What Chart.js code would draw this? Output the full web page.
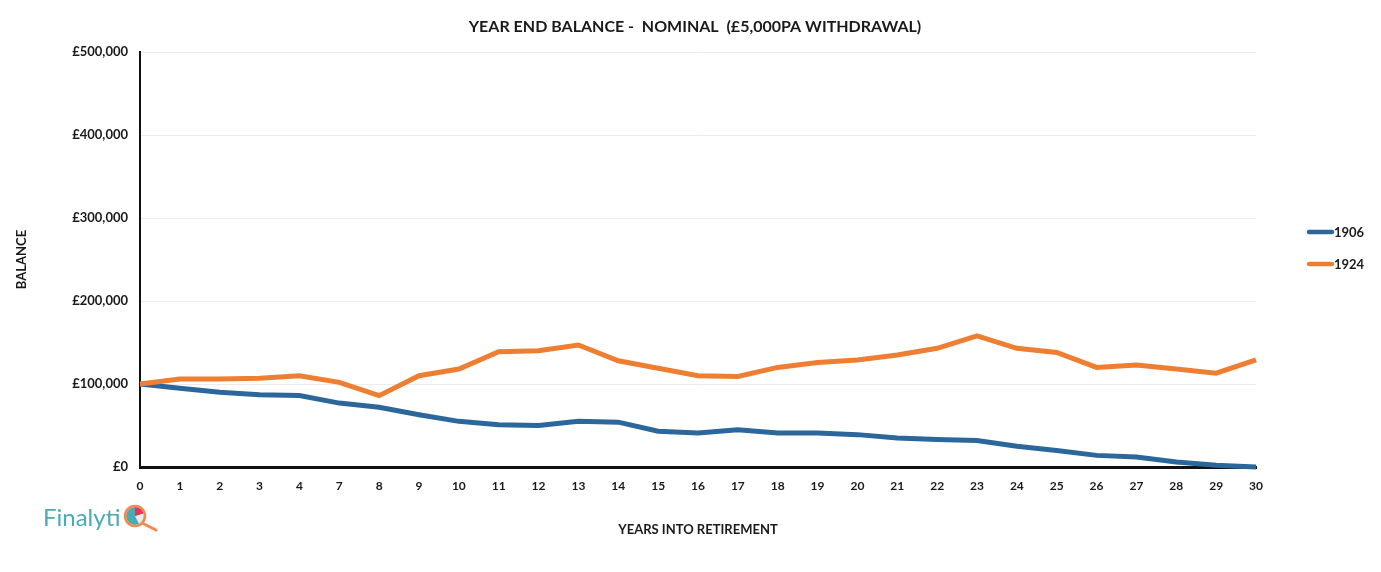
<!DOCTYPE html>
<html>
<head>
<meta charset="utf-8">
<script src="https://cdn.jsdelivr.net/npm/chart.js@4/dist/chart.umd.min.js"></script>
<style>
  html, body { margin: 0; padding: 0; background: #fff; }
  #wrap { width: 1381px; height: 572px; position: relative; }
</style>
</head>
<body>
<div id="wrap"><canvas id="lineChart" width="1381" height="572"></canvas></div>
<script>
const years = ["0", "1", "2", "3", "4", "7", "8", "9", "10", "11", "12", "13", "14", "15", "16", "17",
  "18", "19", "20", "21", "22", "23", "24", "25", "26", "27", "28", "29", "30"];

const balance1906 = [100000, 95000, 90000, 87000, 86000, 77000, 72000, 63000, 55000, 51000, 50000, 55000,
  54000, 43000, 41000, 45000, 41000, 41000, 39000, 35000, 33000, 32000, 25000, 20000, 14000, 12000, 6000, 2000, 0];

const balance1924 = [100000, 106000, 106000, 107000, 110000, 102000, 86000, 110000, 118000, 139000, 140000, 147000,
  128000, 119000, 110000, 109000, 120000, 126000, 129000, 135000, 143000, 158000, 143000, 138000, 120000, 123000, 118000, 113000, 129000];

const yTicks = [0, 100000, 200000, 300000, 400000, 500000];

const chartTitle = "YEAR END BALANCE -  NOMINAL  (£5,000PA WITHDRAWAL)";

const FONT = "Lato, 'Open Sans', sans-serif";
const BLUE = "#2c679c";
const ORANGE = "#ee7f32";
const INK = "#1a1a1a";

// title + legend on the right, drawn by hand so they sit where the original ones do
const decorations = {
  id: "decorations",
  afterDraw(chart) {
    const ctx = chart.ctx;
    ctx.save();
    ctx.fillStyle = INK;
    ctx.font = "bold 16px " + FONT;
    ctx.textAlign = "center";
    ctx.textBaseline = "middle";
    ctx.fillText(chartTitle, 695, 27);
    ctx.restore();

    [0, 1].forEach((idx, i) => {
      const ds = chart.data.datasets[idx];
      const y = 232 + i * 32;
      ctx.save();
      ctx.strokeStyle = ds.borderColor;
      ctx.lineWidth = 4.5;
      ctx.lineCap = "round";
      ctx.beginPath();
      ctx.moveTo(1309, y);
      ctx.lineTo(1332, y);
      ctx.stroke();
      ctx.fillStyle = INK;
      ctx.font = "bold 13px " + FONT;
      ctx.textBaseline = "middle";
      ctx.fillText(ds.label, 1334, y + 1);
      ctx.restore();
    });
  }
};

// little Finalytiq logo bottom left
const logo = {
  id: "logo",
  afterDraw(chart) {
    const ctx = chart.ctx;
    ctx.save();
    ctx.fillStyle = "#4aabb3";
    ctx.font = "24px " + FONT;
    ctx.textBaseline = "middle";
    ctx.fillText("Finalyti", 43, 518);

    const cx = 135, cy = 516, r = 9;
    ctx.strokeStyle = "#f08a52";
    ctx.lineWidth = 3;
    ctx.lineCap = "round";
    ctx.beginPath();
    ctx.moveTo(cx + 7, cy + 7);
    ctx.lineTo(cx + 21, cy + 14);
    ctx.stroke();

    ctx.fillStyle = "#4aabb3";
    ctx.beginPath();
    ctx.arc(cx, cy, r, 0, Math.PI * 2);
    ctx.fill();
    ctx.fillStyle = "#e6ecec";
    ctx.beginPath();
    ctx.moveTo(cx, cy);
    ctx.arc(cx, cy, r, -0.3, 1.1);
    ctx.closePath();
    ctx.fill();
    ctx.fillStyle = "#e8345a";
    ctx.beginPath();
    ctx.moveTo(cx, cy);
    ctx.arc(cx, cy, r, -Math.PI / 2, -0.3);
    ctx.closePath();
    ctx.fill();
    ctx.strokeStyle = "#f08a52";
    ctx.lineWidth = 2.5;
    ctx.beginPath();
    ctx.arc(cx, cy, r + 1, 0, Math.PI * 2);
    ctx.stroke();
    ctx.restore();
  }
};

new Chart(document.getElementById("lineChart"), {
  type: "line",
  data: {
    labels: years,
    datasets: [
      {
        label: "1906",
        data: balance1906,
        borderColor: BLUE,
        backgroundColor: BLUE,
        borderWidth: 5,
        pointRadius: 0,
        tension: 0,
        clip: 6,
        order: 2
      },
      {
        label: "1924",
        data: balance1924,
        borderColor: ORANGE,
        backgroundColor: ORANGE,
        borderWidth: 5,
        pointRadius: 0,
        tension: 0,
        clip: 6,
        order: 1
      }
    ]
  },
  options: {
    responsive: false,
    animation: false,
    layout: { padding: { left: 0, right: 125, top: 52, bottom: 30 } },
    plugins: {
      legend: { display: false },
      tooltip: { enabled: false },
      title: { display: false }
    },
    scales: {
      x: {
        offset: false,
        grid: { display: false, drawTicks: false },
        border: { display: true, color: "#111", width: 3 },
        ticks: {
          color: INK,
          font: { family: FONT, size: 12, weight: "bold" },
          padding: 12,
          maxRotation: 0,
          autoSkip: false
        },
        title: {
          display: true,
          text: "YEARS INTO RETIREMENT",
          color: INK,
          font: { family: FONT, size: 13, weight: "bold" },
          padding: { top: 0, bottom: 4 }
        },
        afterFit(scale) { scale.height = 75; }
      },
      y: {
        min: 0,
        max: 500000,
        afterBuildTicks(scale) { scale.ticks = yTicks.map(v => ({ value: v })); },
        grid: { color: "#ececec", lineWidth: 1, drawTicks: false },
        border: { display: true, color: "#111", width: 2 },
        ticks: {
          color: INK,
          font: { family: FONT, size: 13, weight: "bold" },
          padding: 12,
          callback: v => "£" + Number(v).toLocaleString("en-GB")
        },
        title: {
          display: true,
          text: "BALANCE",
          color: INK,
          font: { family: FONT, size: 13, weight: "bold" },
          padding: { top: 14, bottom: 0 }
        },
        afterFit(scale) { scale.width = 140; }
      }
    }
  },
  plugins: [decorations, logo]
});
</script>
</body>
</html>
